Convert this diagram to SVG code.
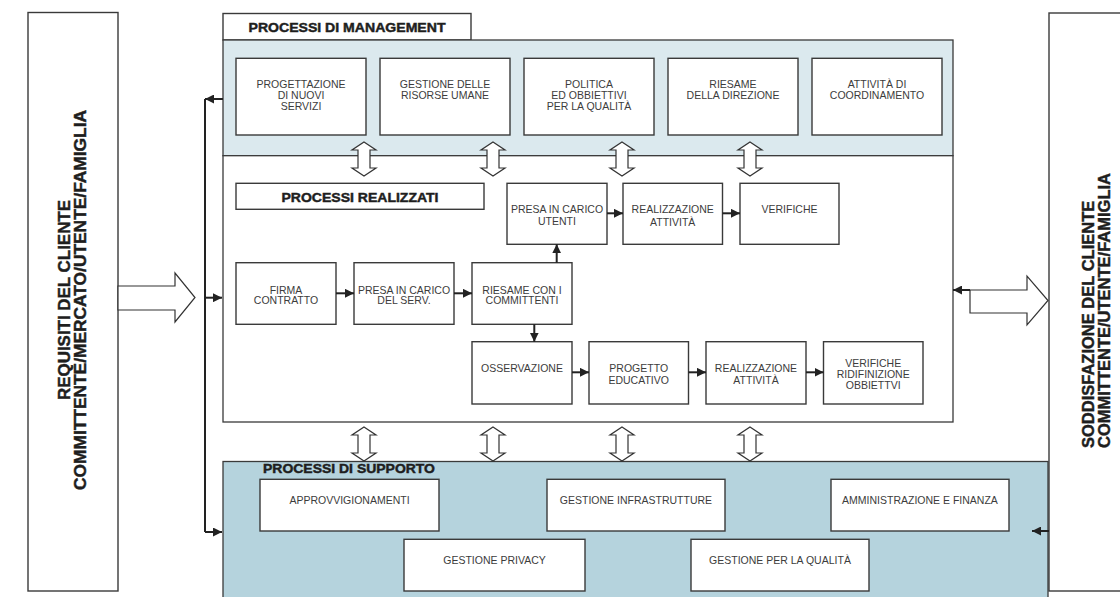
<svg xmlns="http://www.w3.org/2000/svg" xmlns:xlink="http://www.w3.org/1999/xlink" width="1120" height="597" viewBox="0 0 1120 597">
  <style>
    .panel { stroke: #3a3a3a; stroke-width: 1.3; }
    .box { fill: #ffffff; stroke: #3a3a3a; stroke-width: 1.4; }
    .txt { font-family: "Liberation Sans", Arial, sans-serif; font-size: 10.5px; fill: #3c3c3c; text-anchor: middle; }
    .hdr { font-family: "Liberation Sans", Arial, sans-serif; font-weight: bold; font-size: 13px; fill: #1e1e1e; stroke: #1e1e1e; stroke-width: 0.45; text-anchor: middle; }
    .side { font-family: "Liberation Sans", Arial, sans-serif; font-weight: bold; font-size: 16.5px; fill: #1e1e1e; stroke: #1e1e1e; stroke-width: 0.45; }
    .mid { text-anchor: middle; }
    .start { text-anchor: start; }
    .conn { fill: none; stroke: #222222; stroke-width: 2; }
    .hollow { fill: #ffffff; stroke: #333333; stroke-width: 1.2; stroke-linejoin: miter; }
  </style>
  <defs>
    <marker id="arr" markerUnits="userSpaceOnUse" markerWidth="9" markerHeight="9" refX="9" refY="4.5" orient="auto">
      <path d="M0,0 L9,4.5 L0,9 Z" fill="#222222"/>
    </marker>
    <!-- hollow two-way arrow, tip at (0,0), 34 tall -->
    <path id="dbl" d="M0,0 L12,8 L6,8 L6,26 L12,26 L0,34 L-12,26 L-6,26 L-6,8 L-12,8 Z"/>
  </defs>

  <rect width="1120" height="597" fill="#ffffff"/>

  <!-- side blocks -->
  <g id="requisiti">
    <rect x="28" y="12.5" width="90" height="578.5" class="box"/>
    <text class="side mid" transform="translate(70,300) rotate(-90)" textLength="200" lengthAdjust="spacingAndGlyphs">REQUISITI DEL CLIENTE</text>
    <text class="side mid" transform="translate(85.5,300) rotate(-90)" textLength="380" lengthAdjust="spacingAndGlyphs">COMMITTENTE/MERCATO/UTENTE/FAMIGLIA</text>
  </g>
  <g id="soddisfazione">
    <rect x="1049" y="13" width="100" height="578" class="box"/>
    <text class="side start" transform="translate(1094,448) rotate(-90)">SODDISFAZIONE DEL CLIENTE</text>
    <text class="side start" transform="translate(1110,448) rotate(-90)">COMMITTENTE/UTENTE/FAMIGLIA</text>
  </g>

  <!-- process panels -->
  <g id="panel-management">
    <rect x="223" y="13.5" width="248" height="26.5" class="box"/>
    <text class="hdr" x="347" y="31.7" textLength="197" lengthAdjust="spacingAndGlyphs">PROCESSI DI MANAGEMENT</text>
    <rect x="223" y="40" width="730" height="115.7" fill="#dbe9ee" class="panel"/>
  </g>
  <g id="panel-realizzati">
    <rect x="223" y="155.7" width="730" height="266.3" fill="#ffffff" class="panel"/>
    <rect x="236" y="183.3" width="248" height="26" class="box"/>
    <text class="hdr" x="360" y="201.7" textLength="157" lengthAdjust="spacingAndGlyphs">PROCESSI REALIZZATI</text>
  </g>
  <g id="panel-supporto">
    <rect x="223" y="461.5" width="825" height="145" fill="#b5d3dd" class="panel"/>
    <text class="hdr" x="349" y="472.5" textLength="172" lengthAdjust="spacingAndGlyphs">PROCESSI DI SUPPORTO</text>
  </g>

  <!-- management processes -->
  <g id="progettazione">
    <rect x="236" y="58.3" width="130" height="76.7" class="box"/>
    <text class="txt" x="301" y="88">PROGETTAZIONE</text>
    <text class="txt" x="301" y="99">DI NUOVI</text>
    <text class="txt" x="301" y="110">SERVIZI</text>
  </g>
  <g id="risorse-umane">
    <rect x="380" y="58.3" width="130" height="76.7" class="box"/>
    <text class="txt" x="445" y="88">GESTIONE DELLE</text>
    <text class="txt" x="445" y="99">RISORSE UMANE</text>
  </g>
  <g id="politica-qualita">
    <rect x="524" y="58.3" width="130" height="76.7" class="box"/>
    <text class="txt" x="589" y="88">POLITICA</text>
    <text class="txt" x="589" y="99">ED OBBIETTIVI</text>
    <text class="txt" x="589" y="110">PER LA QUALITÀ</text>
  </g>
  <g id="riesame-direzione">
    <rect x="668" y="58.3" width="130" height="76.7" class="box"/>
    <text class="txt" x="733" y="88">RIESAME</text>
    <text class="txt" x="733" y="99">DELLA DIREZIONE</text>
  </g>
  <g id="coordinamento">
    <rect x="812" y="58.3" width="130" height="76.7" class="box"/>
    <text class="txt" x="877" y="88">ATTIVITÀ DI</text>
    <text class="txt" x="877" y="99">COORDINAMENTO</text>
  </g>

  <!-- realised processes -->
  <g id="firma-contratto">
    <rect x="236" y="262.7" width="100" height="61.6" class="box"/>
    <text class="txt" x="286" y="293.5">FIRMA</text>
    <text class="txt" x="286" y="303.8">CONTRATTO</text>
  </g>
  <g id="presa-servizio">
    <rect x="354" y="262.7" width="100" height="61.6" class="box"/>
    <text class="txt" x="404" y="293.5">PRESA IN CARICO</text>
    <text class="txt" x="404" y="304">DEL SERV.</text>
  </g>
  <g id="riesame-committenti">
    <rect x="472" y="262.7" width="100" height="61.6" class="box"/>
    <text class="txt" x="522" y="293.5">RIESAME CON I</text>
    <text class="txt" x="522" y="303.8">COMMITTENTI</text>
  </g>
  <g id="presa-utenti">
    <rect x="507" y="183.3" width="100" height="61" class="box"/>
    <text class="txt" x="557" y="213.3">PRESA IN CARICO</text>
    <text class="txt" x="557" y="225">UTENTI</text>
  </g>
  <g id="realizzazione-1">
    <rect x="623" y="183.3" width="99.5" height="61" class="box"/>
    <text class="txt" x="672.7" y="213.3">REALIZZAZIONE</text>
    <text class="txt" x="672.7" y="225.5">ATTIVITÀ</text>
  </g>
  <g id="verifiche-1">
    <rect x="740" y="183.3" width="99" height="61" class="box"/>
    <text class="txt" x="789.5" y="213.3">VERIFICHE</text>
  </g>
  <g id="osservazione">
    <rect x="472" y="341.7" width="100" height="62.3" class="box"/>
    <text class="txt" x="522" y="372.3">OSSERVAZIONE</text>
  </g>
  <g id="progetto-educativo">
    <rect x="589" y="341.7" width="99.5" height="62.3" class="box"/>
    <text class="txt" x="638.7" y="372">PROGETTO</text>
    <text class="txt" x="638.7" y="384">EDUCATIVO</text>
  </g>
  <g id="realizzazione-2">
    <rect x="706" y="341.7" width="100" height="62.3" class="box"/>
    <text class="txt" x="756" y="372">REALIZZAZIONE</text>
    <text class="txt" x="756" y="384">ATTIVITÀ</text>
  </g>
  <g id="verifiche-2">
    <rect x="823.5" y="341.7" width="99.5" height="62.3" class="box"/>
    <text class="txt" x="873.2" y="367.3">VERIFICHE</text>
    <text class="txt" x="873.2" y="378.3">RIDIFINIZIONE</text>
    <text class="txt" x="873.2" y="389.3">OBBIETTVI</text>
  </g>

  <!-- support processes -->
  <g id="approvvigionamenti">
    <rect x="260" y="479.3" width="179" height="51.7" class="box"/>
    <text class="txt" x="349.5" y="504">APPROVVIGIONAMENTI</text>
  </g>
  <g id="infrastrutture">
    <rect x="547" y="479.3" width="178" height="51.7" class="box"/>
    <text class="txt" x="636" y="504">GESTIONE INFRASTRUTTURE</text>
  </g>
  <g id="amministrazione">
    <rect x="831" y="479.3" width="178" height="51.7" class="box"/>
    <text class="txt" x="920" y="504">AMMINISTRAZIONE E FINANZA</text>
  </g>
  <g id="privacy">
    <rect x="404" y="539.3" width="181" height="51.7" class="box"/>
    <text class="txt" x="494.5" y="564">GESTIONE PRIVACY</text>
  </g>
  <g id="gestione-qualita">
    <rect x="691" y="539.3" width="178" height="51.7" class="box"/>
    <text class="txt" x="780" y="564">GESTIONE PER LA QUALITÀ</text>
  </g>

  <!-- connectors -->
  <g id="connectors">
    <!-- input / output block arrows -->
    <path class="hollow" d="M118,286 L175,286 L175,273 L195,297.5 L175,322 L175,310 L118,310 Z"/>
    <path class="hollow" d="M970,290 L1027,290 L1027,276 L1048,300.5 L1027,325 L1027,313 L970,313 Z"/>
    <!-- two-way exchanges between panels -->
    <use xlink:href="#dbl" href="#dbl" class="hollow" x="364" y="142"/>
    <use xlink:href="#dbl" href="#dbl" class="hollow" x="493" y="142"/>
    <use xlink:href="#dbl" href="#dbl" class="hollow" x="622" y="142"/>
    <use xlink:href="#dbl" href="#dbl" class="hollow" x="750" y="142"/>
    <use xlink:href="#dbl" href="#dbl" class="hollow" x="364" y="427"/>
    <use xlink:href="#dbl" href="#dbl" class="hollow" x="493" y="427"/>
    <use xlink:href="#dbl" href="#dbl" class="hollow" x="622" y="427"/>
    <use xlink:href="#dbl" href="#dbl" class="hollow" x="750" y="427"/>
    <!-- left feedback bus -->
    <path class="conn" d="M205,99 V532"/>
    <path class="conn" d="M223,99 H205" marker-end="url(#arr)"/>
    <path class="conn" d="M205,297.7 H222" marker-end="url(#arr)"/>
    <path class="conn" d="M205,532 H222" marker-end="url(#arr)"/>
    <!-- right side returns -->
    <path class="conn" d="M970,290 H953" marker-end="url(#arr)"/>
    <path class="conn" d="M1049,531 H1032" marker-end="url(#arr)"/>
    <!-- process flow -->
    <path class="conn" d="M336,293.3 H354" marker-end="url(#arr)"/>
    <path class="conn" d="M454,293.3 H472" marker-end="url(#arr)"/>
    <path class="conn" d="M556.7,262.7 V244.3" marker-end="url(#arr)"/>
    <path class="conn" d="M534.3,324.3 V341.7" marker-end="url(#arr)"/>
    <path class="conn" d="M607,213.3 H623" marker-end="url(#arr)"/>
    <path class="conn" d="M722.5,213.3 H740" marker-end="url(#arr)"/>
    <path class="conn" d="M572,372.3 H589" marker-end="url(#arr)"/>
    <path class="conn" d="M688.5,372.3 H706" marker-end="url(#arr)"/>
    <path class="conn" d="M806,372.3 H823.5" marker-end="url(#arr)"/>
  </g>
</svg>
